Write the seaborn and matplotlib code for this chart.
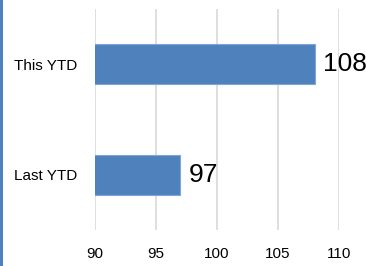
import matplotlib
matplotlib.use("Agg")
import matplotlib.pyplot as plt
import seaborn as sns
import pandas as pd
from matplotlib.patches import Rectangle

categories = ["This YTD", "Last YTD"]
values = [108, 97]
xticks = [90, 95, 100, 105, 110]

sns.set_theme(style="white")
plt.rcParams['font.family'] = ['Liberation Sans', 'DejaVu Sans']

df = pd.DataFrame({"period": categories, "value": values})

fig = plt.figure(figsize=(3.66, 2.66), dpi=100)
ax = fig.add_axes([95/366, 1-230/266, 244/366, 221/266])

sns.barplot(data=df, x="value", y="period", order=categories, orient="h",
            color="#4F81BD", saturation=1, width=0.36,
            edgecolor="#7EA6D6", linewidth=0.8, ax=ax, zorder=3)

ax.set_xlim(90, 110)
ax.set_ylim(1.5, -0.5)
ax.set_xticks(xticks)
ax.set_xticklabels([str(t) for t in xticks])
ax.grid(axis="x", color="#D9D9D9", linewidth=1.2, zorder=0)
ax.set_axisbelow(True)
for s in ax.spines.values():
    s.set_visible(False)
ax.set_xlabel("")
ax.set_ylabel("")
ax.tick_params(axis="x", length=0, pad=12, labelsize=11, colors="black")
ax.tick_params(axis="y", length=0, pad=13, labelsize=11, colors="black")

for cont in ax.containers:
    ax.bar_label(cont, labels=[str(v) for v in values], padding=6,
                 fontsize=19, color="black")

fig.patches.append(Rectangle((0, 0), 2.5/366, 1, transform=fig.transFigure,
                             facecolor="#4F81BD", edgecolor="none"))

fig.savefig("out.png", dpi=100)
